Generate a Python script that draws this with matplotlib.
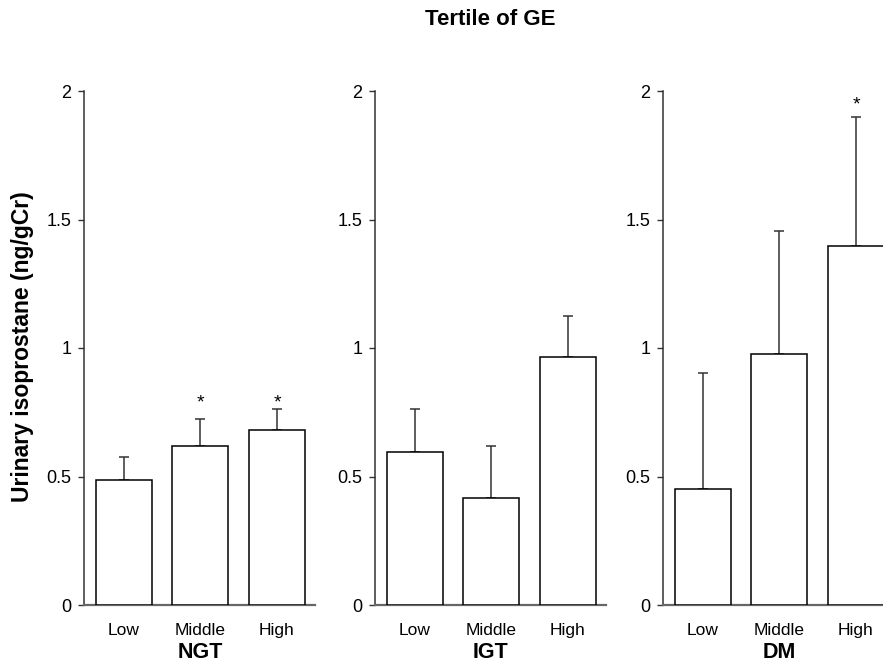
import matplotlib.pyplot as plt

plt.rcParams["font.family"] = ["Liberation Sans", "DejaVu Sans"]

# data (urinary isoprostane, ng/gCr)
tertiles = ["Low", "Middle", "High"]
groups = ["NGT", "IGT", "DM"]
means = {
    "NGT": [0.486, 0.619, 0.682],
    "IGT": [0.597, 0.416, 0.966],
    "DM": [0.450, 0.975, 1.398],
}
sem = {
    "NGT": [0.089, 0.105, 0.079],
    "IGT": [0.164, 0.203, 0.159],
    "DM": [0.454, 0.480, 0.501],
}
# which bars carry an asterisk, and the level it is printed at
stars = {
    "NGT": [False, True, True],
    "IGT": [False, False, False],
    "DM": [False, False, True],
}
star_level = {"NGT": 0.77, "IGT": 0.0, "DM": 1.93}
yticks = [0, 0.5, 1, 1.5, 2]
ytick_labels = ["0", "0.5", "1", "1.5", "2"]

fig = plt.figure(figsize=(8.83, 6.63), dpi=100)
lefts = [84, 375, 663]
x = list(range(len(tertiles)))

for left, g in zip(lefts, groups):
    ax = fig.add_axes([left / 883, 58 / 663, 231 / 883, 514 / 663])
    ax.bar(x, means[g], width=0.732, color="white", edgecolor="black",
           linewidth=1.1, zorder=3)
    ax.errorbar(x, means[g], yerr=[[0] * 3, sem[g]], fmt="none",
                ecolor="#333333", elinewidth=1.1, capsize=3.6,
                capthick=1.1, zorder=2)
    for xi, s in zip(x, stars[g]):
        if s:
            ax.text(xi, star_level[g], "*", ha="center", va="baseline",
                    fontsize=14)
    ax.set_xlim(-0.523, 2.497)
    ax.set_ylim(0, 2)
    ax.set_yticks(yticks)
    ax.set_yticklabels(ytick_labels)
    ax.set_xticks(x)
    ax.set_xticklabels(tertiles)
    ax.tick_params(axis="x", length=0, pad=13, labelsize=12.5)
    ax.tick_params(axis="y", length=4, width=1.0, pad=5, labelsize=13,
                   color="#333333")
    for side in ["top", "right"]:
        ax.spines[side].set_visible(False)
    ax.spines["left"].set_color("#333333")
    ax.spines["left"].set_linewidth(1.1)
    ax.spines["bottom"].set_color("#666666")
    ax.spines["bottom"].set_linewidth(1.6)
    ax.patch.set_alpha(0)
    # group name under the middle tertile
    fig.text((left + 116) / 883, 5 / 663, g, ha="center", va="baseline",
             fontsize=15.5, fontweight="bold")

fig.text(490 / 883, (663 - 25) / 663, "Tertile of GE", ha="center",
         va="baseline", fontsize=16, fontweight="bold")
fig.text(23 / 883, (663 - 347) / 663, "Urinary isoprostane (ng/gCr)",
         rotation=90, ha="center", va="center", fontsize=16.5,
         fontweight="bold")

fig.savefig("out.png", dpi=100)
